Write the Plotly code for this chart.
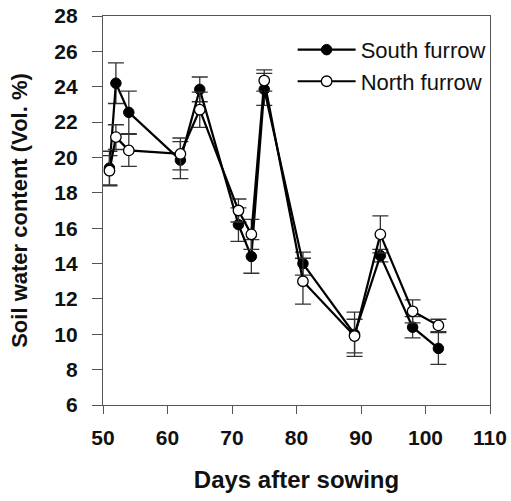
import plotly.graph_objects as go

days = [51, 52, 54, 62, 65, 71, 73, 75, 81, 89, 93, 98, 102]
south = [19.4, 24.2, 22.55, 19.85, 23.85, 16.2, 14.4, 23.85, 14.0, 10.0, 14.45, 10.4, 9.2]
south_err = [0.95, 1.15, 1.2, 1.05, 0.7, 0.95, 0.95, 0.9, 0.65, 1.25, 0.35, 0.6, 0.9]
north = [19.25, 21.15, 20.4, 20.2, 22.7, 17.0, 15.65, 24.35, 13.0, 9.9, 15.65, 11.3, 10.5]
north_err = [0.85, 0.7, 0.9, 0.9, 1.0, 0.65, 0.85, 0.6, 1.3, 0.95, 1.05, 0.65, 0.35]

x_ticks = [50, 60, 70, 80, 90, 100, 110]
y_ticks = [6, 8, 10, 12, 14, 16, 18, 20, 22, 24, 26, 28]

FONT = "Liberation Sans, Arial, sans-serif"

fig = go.Figure()
fig.add_trace(go.Scatter(
    x=days, y=south, name="South furrow", mode="lines+markers",
    line=dict(color="black", width=2.2),
    marker=dict(symbol="circle", size=10.5, color="black", line=dict(color="black", width=1)),
    error_y=dict(type="data", array=south_err, visible=True, color="#333333", thickness=1.3, width=8),
))
fig.add_trace(go.Scatter(
    x=days, y=north, name="North furrow", mode="lines+markers",
    line=dict(color="black", width=2.2),
    marker=dict(symbol="circle", size=10.5, color="white", line=dict(color="black", width=1.3)),
    error_y=dict(type="data", array=north_err, visible=True, color="#333333", thickness=1.3, width=8),
))

axis_common = dict(
    showline=True, linecolor="#555555", linewidth=1.3, mirror=True,
    ticks="outside", tickcolor="#555555", tickwidth=1.3,
    showgrid=False, zeroline=False, automargin=False,
    tickfont=dict(family=FONT, size=21, color="#111111"),
)

fig.update_layout(
    width=511, height=501,
    margin=dict(l=103, r=21, t=16, b=96),
    paper_bgcolor="white", plot_bgcolor="white",
    font=dict(family=FONT, color="#111111"),
    showlegend=True,
    legend=dict(x=0.49, y=0.967, xanchor="left", yanchor="top",
                bgcolor="rgba(0,0,0,0)", borderwidth=0,
                font=dict(family=FONT, size=22, color="#111111"),
                itemwidth=58, tracegroupgap=0),
)
fig.update_xaxes(range=[50, 110], tickvals=x_ticks,
                 ticktext=[f"<b>{v}</b>" for v in x_ticks],
                 ticklen=8, ticklabelstandoff=6,
                 title=dict(text="<b>Days after sowing</b>", standoff=22,
                            font=dict(family=FONT, size=24, color="#111111")),
                 **axis_common)
fig.update_yaxes(range=[6, 28], tickvals=y_ticks,
                 ticktext=[f"<b>{v}</b>" for v in y_ticks],
                 ticklen=10, ticklabelstandoff=10,
                 title=dict(text="<b>Soil water content (Vol. %)</b>", standoff=20,
                            font=dict(family=FONT, size=22, color="#111111")),
                 **axis_common)

fig.write_html("out.html")
